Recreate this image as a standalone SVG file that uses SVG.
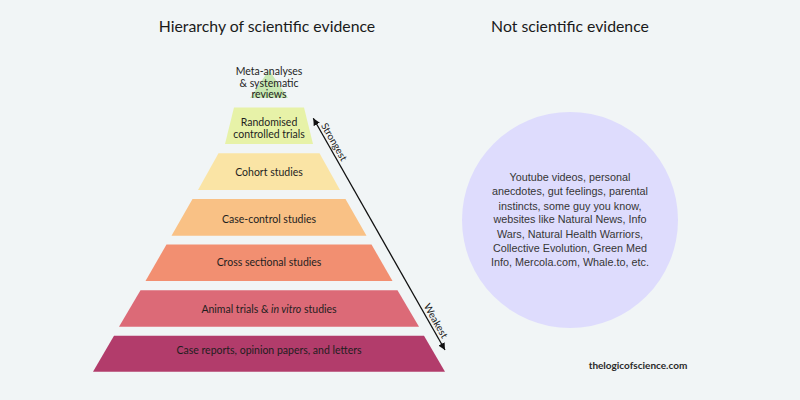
<svg xmlns="http://www.w3.org/2000/svg" width="800" height="400" viewBox="0 0 800 400">
  <defs>
    <marker id="ah" viewBox="0 0 10 10" refX="10" refY="5" markerWidth="7" markerHeight="7" markerUnits="userSpaceOnUse" orient="auto-start-reverse">
      <path d="M0,0 L10,5 L0,10 Z" fill="#111"/>
    </marker>
    <style>
      .hd { font-family: Lato, "Noto Sans", sans-serif; font-size: 15.8px; fill: #1a1a1a; text-anchor: middle; }
      .lb { font-family: Lato, "Noto Sans", sans-serif; font-size: 10.5px; fill: #1e1e1e; text-anchor: middle; }
      .ct { font-family: "Liberation Sans", Arial, sans-serif; font-size: 10.8px; fill: #363636; text-anchor: middle; }
      .ax { font-family: Lato, "Noto Sans", sans-serif; font-size: 10px; fill: #1a1a1a; text-anchor: middle; }
      .wm { font-family: Lato, "Noto Sans", sans-serif; font-size: 10px; font-weight: bold; fill: #2a2a2a; text-anchor: middle; }
    </style>
  </defs>
  <rect width="800" height="400" fill="#f1f5f6"/>

  <text class="hd" x="267" y="32">Hierarchy of scientific evidence</text>
  <text class="hd" x="570" y="32">Not scientific evidence</text>

  <g id="meta">
    <polygon points="269,70 288,98 250,98" fill="#c8e8b3"/>
    <text class="lb" x="269" y="75">Meta-analyses</text>
    <text class="lb" x="269" y="86.5">&amp; systematic</text>
    <text class="lb" x="269" y="98">reviews</text>
  </g>
  <g id="rct">
    <polygon points="234,107.5 304,107.5 313,144 225,144" fill="#e7f2a8"/>
    <text class="lb" x="269" y="125.5">Randomised</text>
    <text class="lb" x="269" y="138">controlled trials</text>
  </g>
  <g id="cohort">
    <polygon points="218.5,153.3 319.5,153.3 340,190 198,190" fill="#fae4a5"/>
    <text class="lb" x="269" y="176">Cohort studies</text>
  </g>
  <g id="casecontrol">
    <polygon points="192.5,199 345.5,199 366.5,235.7 171.5,235.7" fill="#f9c185"/>
    <text class="lb" x="269" y="222.5">Case-control studies</text>
  </g>
  <g id="crosssectional">
    <polygon points="166.5,244.5 371.5,244.5 392.5,281 145.5,281" fill="#f28f71"/>
    <text class="lb" x="269" y="265.5">Cross sectional studies</text>
  </g>
  <g id="animal">
    <polygon points="140.5,290.3 397.5,290.3 419,326.7 119,326.7" fill="#dc6a77"/>
    <text class="lb" x="269" y="312.5">Animal trials &amp; <tspan font-style="italic">in vitro</tspan> studies</text>
  </g>
  <g id="casereports">
    <polygon points="114,335.8 424,335.8 445,371.7 93,371.7" fill="#b23c6b"/>
    <text class="lb" x="269" y="354">Case reports, opinion papers, and letters</text>
  </g>

  <g id="connectors">
    <line x1="313.3" y1="118.3" x2="445" y2="350" stroke="#111" stroke-width="1.3" marker-start="url(#ah)" marker-end="url(#ah)"/>
    <text class="ax" transform="translate(328.5,145.1) rotate(60.4)" y="-3">Strongest</text>
    <text class="ax" transform="translate(430.2,324) rotate(60.4)" y="-3">Weakest</text>
  </g>

  <g id="notscience">
    <circle cx="570" cy="220" r="108" fill="#dedcfd"/>
    <text class="ct" x="570" y="181.3">Youtube videos, personal</text>
    <text class="ct" x="570" y="195.3">anecdotes, gut feelings, parental</text>
    <text class="ct" x="570" y="209.6">instincts, some guy you know,</text>
    <text class="ct" x="570" y="223.3">websites like Natural News, Info</text>
    <text class="ct" x="570" y="237.6">Wars, Natural Health Warriors,</text>
    <text class="ct" x="570" y="251.6">Collective Evolution, Green Med</text>
    <text class="ct" x="570" y="266.1">Info, Mercola.com, Whale.to, etc.</text>
  </g>

  <text class="wm" x="638" y="369">thelogicofscience.com</text>
</svg>
